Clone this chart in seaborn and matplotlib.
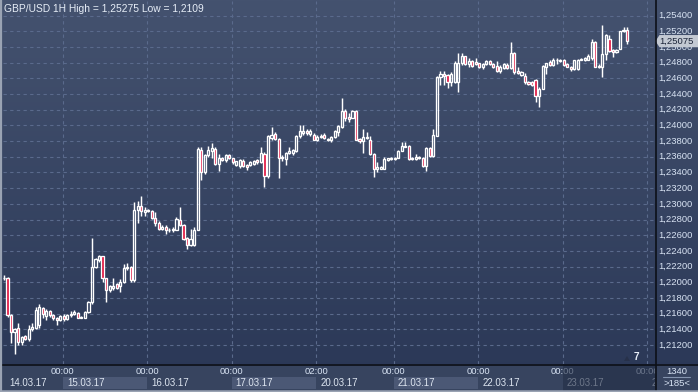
import numpy as np
import matplotlib
matplotlib.use("Agg")
import matplotlib.pyplot as plt
import seaborn as sns
from matplotlib.colors import LinearSegmentedColormap
from matplotlib.patches import Rectangle, Polygon
from matplotlib.lines import Line2D

# ---------------- data (GBP/USD, 1H candles) ----------------
opens = [1.2205, 1.2205, 1.2158, 1.2137, 1.2141, 1.2124, 1.2131, 1.2127, 1.2140, 1.2142,
         1.2146, 1.2167, 1.2157, 1.2163, 1.2158, 1.2154, 1.2152, 1.2157, 1.2153, 1.2158,
         1.2159, 1.2161, 1.2155, 1.2155, 1.2162, 1.2175, 1.2220, 1.2228, 1.2233, 1.2205,
         1.2190, 1.2193, 1.2198, 1.2195, 1.2200, 1.2218, 1.2220, 1.2203, 1.2292, 1.2297,
         1.2290, 1.2292, 1.2291, 1.2282, 1.2276, 1.2268, 1.2271, 1.2266, 1.2267, 1.2267,
         1.2280, 1.2273, 1.2257, 1.2247, 1.2248, 1.2267, 1.2369, 1.2340, 1.2362, 1.2368,
         1.2370, 1.2351, 1.2359, 1.2356, 1.2362, 1.2358, 1.2350, 1.2348, 1.2355, 1.2350,
         1.2350, 1.2351, 1.2356, 1.2353, 1.2364, 1.2335, 1.2384, 1.2389, 1.2383, 1.2360,
         1.2357, 1.2365, 1.2365, 1.2368, 1.2386, 1.2390, 1.2393, 1.2389, 1.2388, 1.2382,
         1.2385, 1.2388, 1.2383, 1.2381, 1.2385, 1.2392, 1.2398, 1.2418, 1.2411, 1.2410,
         1.2419, 1.2383, 1.2380, 1.2385, 1.2382, 1.2364, 1.2345, 1.2345, 1.2345, 1.2356,
         1.2357, 1.2359, 1.2359, 1.2368, 1.2373, 1.2374, 1.2359, 1.2357, 1.2360, 1.2359,
         1.2348, 1.2371, 1.2361, 1.2387, 1.2462, 1.2466, 1.2464, 1.2455, 1.2455, 1.2456,
         1.2479, 1.2488, 1.2478, 1.2482, 1.2481, 1.2479, 1.2475, 1.2478, 1.2482, 1.2478,
         1.2476, 1.2470, 1.2473, 1.2477, 1.2473, 1.2492, 1.2469, 1.2464, 1.2463, 1.2456,
         1.2456, 1.2458, 1.2437, 1.2447, 1.2474, 1.2481, 1.2477, 1.2483, 1.2482, 1.2484,
         1.2478, 1.2475, 1.2472, 1.2472, 1.2484, 1.2483, 1.2484, 1.2486, 1.2507, 1.2476,
         1.2474, 1.2491, 1.2510, 1.2496, 1.2494, 1.2498, 1.2520, 1.2522]
highs = [1.2209, 1.2207, 1.2159, 1.2142, 1.2148, 1.2132, 1.2133, 1.2145, 1.2148, 1.2168,
         1.2172, 1.2168, 1.2166, 1.2165, 1.2159, 1.2156, 1.2158, 1.2159, 1.2159, 1.2163,
         1.2165, 1.2162, 1.2157, 1.2163, 1.2176, 1.2256, 1.2231, 1.2235, 1.2234, 1.2206,
         1.2196, 1.2206, 1.2199, 1.2204, 1.2223, 1.2225, 1.2221, 1.2302, 1.2304, 1.2310,
         1.2296, 1.2293, 1.2292, 1.2290, 1.2278, 1.2273, 1.2273, 1.2269, 1.2270, 1.2283,
         1.2296, 1.2274, 1.2258, 1.2268, 1.2270, 1.2373, 1.2372, 1.2363, 1.2374, 1.2378,
         1.2372, 1.2363, 1.2360, 1.2364, 1.2363, 1.2359, 1.2355, 1.2357, 1.2357, 1.2351,
         1.2354, 1.2356, 1.2357, 1.2373, 1.2366, 1.2388, 1.2398, 1.2392, 1.2384, 1.2362,
         1.2366, 1.2373, 1.2370, 1.2388, 1.2401, 1.2401, 1.2396, 1.2395, 1.2390, 1.2388,
         1.2389, 1.2390, 1.2384, 1.2386, 1.2394, 1.2401, 1.2435, 1.2421, 1.2416, 1.2420,
         1.2420, 1.2384, 1.2396, 1.2392, 1.2386, 1.2365, 1.2353, 1.2348, 1.2360, 1.2359,
         1.2360, 1.2360, 1.2369, 1.2379, 1.2379, 1.2375, 1.2360, 1.2363, 1.2361, 1.2360,
         1.2372, 1.2372, 1.2396, 1.2463, 1.2469, 1.2469, 1.2466, 1.2468, 1.2482, 1.2492,
         1.2493, 1.2489, 1.2486, 1.2483, 1.2486, 1.2480, 1.2479, 1.2483, 1.2484, 1.2479,
         1.2482, 1.2477, 1.2479, 1.2480, 1.2507, 1.2494, 1.2474, 1.2469, 1.2467, 1.2457,
         1.2457, 1.2459, 1.2449, 1.2477, 1.2480, 1.2483, 1.2486, 1.2486, 1.2485, 1.2485,
         1.2479, 1.2476, 1.2484, 1.2485, 1.2486, 1.2487, 1.2491, 1.2510, 1.2508, 1.2478,
         1.2528, 1.2516, 1.2515, 1.2497, 1.2498, 1.2521, 1.2525, 1.2525]
lows = [1.2203, 1.2156, 1.2122, 1.2109, 1.2120, 1.2120, 1.2126, 1.2125, 1.2138, 1.2140,
        1.2141, 1.2155, 1.2152, 1.2156, 1.2152, 1.2146, 1.2150, 1.2150, 1.2152, 1.2156,
        1.2158, 1.2154, 1.2154, 1.2154, 1.2161, 1.2172, 1.2218, 1.2226, 1.2200, 1.2175,
        1.2188, 1.2190, 1.2191, 1.2188, 1.2199, 1.2216, 1.2200, 1.2200, 1.2275, 1.2285,
        1.2284, 1.2289, 1.2281, 1.2272, 1.2266, 1.2266, 1.2262, 1.2264, 1.2264, 1.2266,
        1.2272, 1.2254, 1.2242, 1.2246, 1.2246, 1.2266, 1.2331, 1.2338, 1.2360, 1.2358,
        1.2349, 1.2342, 1.2354, 1.2353, 1.2357, 1.2351, 1.2348, 1.2346, 1.2347, 1.2343,
        1.2348, 1.2350, 1.2351, 1.2352, 1.2322, 1.2333, 1.2382, 1.2381, 1.2333, 1.2355,
        1.2350, 1.2364, 1.2362, 1.2366, 1.2384, 1.2388, 1.2388, 1.2386, 1.2381, 1.2380,
        1.2384, 1.2383, 1.2380, 1.2379, 1.2384, 1.2386, 1.2397, 1.2406, 1.2405, 1.2409,
        1.2381, 1.2378, 1.2365, 1.2383, 1.2362, 1.2334, 1.2341, 1.2344, 1.2344, 1.2355,
        1.2356, 1.2356, 1.2358, 1.2367, 1.2372, 1.2356, 1.2356, 1.2356, 1.2357, 1.2347,
        1.2342, 1.2360, 1.2360, 1.2386, 1.2451, 1.2451, 1.2448, 1.2450, 1.2454, 1.2443,
        1.2477, 1.2477, 1.2475, 1.2475, 1.2477, 1.2473, 1.2472, 1.2477, 1.2477, 1.2473,
        1.2468, 1.2467, 1.2472, 1.2472, 1.2472, 1.2466, 1.2466, 1.2463, 1.2453, 1.2451,
        1.2450, 1.2430, 1.2423, 1.2446, 1.2466, 1.2476, 1.2476, 1.2478, 1.2481, 1.2476,
        1.2474, 1.2470, 1.2471, 1.2471, 1.2483, 1.2482, 1.2483, 1.2483, 1.2474, 1.2473,
        1.2462, 1.2483, 1.2494, 1.2487, 1.2493, 1.2497, 1.2519, 1.2504]
closes = [1.2206, 1.2158, 1.2137, 1.2140, 1.2124, 1.2130, 1.2128, 1.2140, 1.2143, 1.2165,
          1.2168, 1.2160, 1.2163, 1.2158, 1.2154, 1.2152, 1.2157, 1.2153, 1.2158, 1.2160,
          1.2162, 1.2155, 1.2156, 1.2162, 1.2175, 1.2220, 1.2229, 1.2233, 1.2205, 1.2190,
          1.2195, 1.2195, 1.2193, 1.2200, 1.2218, 1.2220, 1.2203, 1.2292, 1.2297, 1.2291,
          1.2292, 1.2291, 1.2282, 1.2276, 1.2268, 1.2271, 1.2266, 1.2267, 1.2268, 1.2281,
          1.2273, 1.2255, 1.2247, 1.2255, 1.2267, 1.2370, 1.2340, 1.2362, 1.2369, 1.2371,
          1.2351, 1.2358, 1.2356, 1.2362, 1.2359, 1.2353, 1.2354, 1.2356, 1.2348, 1.2347,
          1.2353, 1.2354, 1.2353, 1.2365, 1.2336, 1.2386, 1.2388, 1.2383, 1.2359, 1.2358,
          1.2365, 1.2367, 1.2369, 1.2387, 1.2393, 1.2393, 1.2390, 1.2393, 1.2382, 1.2385,
          1.2387, 1.2384, 1.2381, 1.2385, 1.2393, 1.2399, 1.2418, 1.2409, 1.2408, 1.2419,
          1.2382, 1.2380, 1.2385, 1.2384, 1.2364, 1.2345, 1.2347, 1.2347, 1.2357, 1.2358,
          1.2359, 1.2357, 1.2368, 1.2374, 1.2374, 1.2357, 1.2357, 1.2360, 1.2358, 1.2348,
          1.2371, 1.2361, 1.2388, 1.2462, 1.2465, 1.2463, 1.2455, 1.2466, 1.2480, 1.2480,
          1.2488, 1.2478, 1.2482, 1.2476, 1.2478, 1.2474, 1.2478, 1.2482, 1.2478, 1.2474,
          1.2470, 1.2474, 1.2478, 1.2473, 1.2492, 1.2468, 1.2467, 1.2468, 1.2455, 1.2453,
          1.2451, 1.2438, 1.2447, 1.2476, 1.2479, 1.2477, 1.2484, 1.2484, 1.2484, 1.2477,
          1.2475, 1.2472, 1.2483, 1.2484, 1.2485, 1.2486, 1.2489, 1.2507, 1.2475, 1.2475,
          1.2491, 1.2515, 1.2495, 1.2494, 1.2496, 1.2520, 1.2522, 1.2508]

day_ticks = [17, 41, 65, 89, 111, 135, 159, 183]
time_labels = ["00:00", "00:00", "00:00", "02:00", "00:00", "00:00", "00:00", "00:00"]
date_starts = [0.8, 17, 41, 65, 89, 111, 135, 159, 183]
date_labels = ["14.03.17", "15.03.17", "16.03.17", "17.03.17", "20.03.17",
               "21.03.17", "22.03.17", "23.03.17", "24.03.17"]
date_shaded = [False, True, False, True, False, True, False, False, False]
price_ticks = [1.254, 1.252, 1.250, 1.248, 1.246, 1.244, 1.242, 1.240, 1.238, 1.236, 1.234,
               1.232, 1.230, 1.228, 1.226, 1.224, 1.222, 1.220, 1.218, 1.216, 1.214, 1.212]
title = "GBP/USD 1H High = 1,25275 Low = 1,2109"
last_price = 1.25075
footer_top = "1340"
footer_bottom = ">185<"
marker_text = "7"

# ---------------- style ----------------
sns.set_style("dark")
plt.rcParams["font.family"] = ["Liberation Sans", "DejaVu Sans"]

W, H = 698, 392
fig = plt.figure(figsize=(W / 100, H / 100), dpi=100)

TXT = "#d8e3f3"
GRID = "#5a6a8c"
RED = "#e0103c"

# gradient background for whole figure
bg = fig.add_axes([0, 0, 1, 1], zorder=-10)
grad_cmap = LinearSegmentedColormap.from_list("bg", ["#2a3756", "#44526f"])
bg.imshow(np.linspace(0, 1, 256).reshape(-1, 1), cmap=grad_cmap, aspect="auto",
          extent=[0, 1, 0, 1], origin="lower")
bg.set_xlim(0, 1); bg.set_ylim(0, 1); bg.axis("off")

# ---------------- main candle axes ----------------
ax = fig.add_axes([3 / W, 28 / H, 652 / W, 363 / H])
ax.set_facecolor("none")
XMIN, XMAX = -0.28, 184.94
YMIN, YMAX = 1.20957, 1.25587
ax.set_xlim(XMIN, XMAX)
ax.set_ylim(YMIN, YMAX)

o = np.array(opens); h = np.array(highs); l = np.array(lows); c = np.array(closes)
x = np.arange(len(c))
top = np.maximum(o, c)
bot = np.minimum(o, c)
body = np.maximum(top - bot, 0.00006)
bear = c < o
faces = [RED if b else (0, 0, 0, 0) for b in bear]

ax.vlines(x, top, h, color="white", linewidth=1.05, zorder=3)
ax.vlines(x, l, bot, color="white", linewidth=1.05, zorder=3)
ax.bar(x, body, bottom=bot, width=0.6, color=faces, edgecolor="white",
       linewidth=0.95, zorder=4)

ax.set_xticks([t - 0.3 for t in day_ticks])
ax.set_yticks(price_ticks)
ax.grid(True, color=GRID, linestyle=(0, (3, 3)), linewidth=0.8)
ax.tick_params(length=0, labelbottom=False, labelleft=False)
for s in ax.spines.values():
    s.set_visible(False)

# ---------------- right price panel ----------------
axr = fig.add_axes([655 / W, 28 / H, 43 / W, 363 / H])
axr.set_facecolor("none")
axr.set_xlim(0, 43)
axr.set_ylim(YMIN, YMAX)
axr.axis("off")
for p in price_ticks:
    axr.text(3, p, f"{p:.5f}".replace(".", ","), ha="left", va="center",
             color=TXT, fontsize=6.8)
dy = 0.00078
tag = Polygon([(0.5, last_price), (4.5, last_price + dy), (43, last_price + dy),
               (43, last_price - dy), (4.5, last_price - dy)], closed=True,
              facecolor="#c3c9d3", edgecolor="none", zorder=5, clip_on=False)
axr.add_patch(tag)
axr.text(4.2, last_price, f"{last_price:.5f}".replace(".", ","), ha="left", va="center",
         color="#1b2438", fontsize=6.8, zorder=6)

# ---------------- bottom time panel ----------------
axb = fig.add_axes([0, 0, 655 / W, 28 / H])
axb.set_facecolor("#37445f")
xb0 = XMIN - 3 * (XMAX - XMIN) / 652
axb.set_xlim(xb0, XMAX)
axb.set_ylim(0, 28)
for sp in axb.spines.values():
    sp.set_visible(False)
axb.set_xticks([]); axb.set_yticks([])
for i, (st, lab, sh) in enumerate(zip(date_starts, date_labels, date_shaded)):
    if sh:
        nxt = date_starts[i + 1]
        axb.add_patch(Rectangle((st - 0.3, 2.7), nxt - st, 12.6,
                                facecolor="#4b5875", edgecolor="none", zorder=1))
    axb.text(st + 0.85, 8.8, lab, ha="left", va="center", color="#dde5f0",
             fontsize=7.0, clip_on=True, zorder=2)
for t, lab in zip(day_ticks, time_labels):
    axb.text(t - 0.3, 20.3, lab, ha="center", va="center", color=TXT,
             fontsize=6.8, clip_on=True, zorder=2)
axb.add_patch(Rectangle((day_ticks[-2] - 0.3, 1.5), 40, 26.5, facecolor="#222d45",
                        alpha=0.6, edgecolor="none", zorder=3))

# ---------------- bottom-right corner ----------------
axc = fig.add_axes([655 / W, 0, 43 / W, 28 / H])
axc.set_facecolor("#37445f")
axc.set_xlim(0, 43); axc.set_ylim(0, 28)
for sp in axc.spines.values():
    sp.set_visible(False)
axc.set_xticks([]); axc.set_yticks([])
axc.text(21.5, 21.0, footer_top, ha="center", va="center", color=TXT, fontsize=6.8)
axc.plot([8, 35], [15.3, 15.3], color="#8494ae", linewidth=0.8)
axc.text(21.5, 8.6, footer_bottom, ha="center", va="center", color=TXT, fontsize=6.8)

# ---------------- separators, frame, title ----------------
fig.add_artist(Line2D([655.5 / W, 655.5 / W], [0, 1], color="#0c1018", linewidth=1.2))
fig.add_artist(Line2D([0, 1], [1 - 364.5 / H, 1 - 364.5 / H], color="#0c1018", linewidth=1.2))
fig.add_artist(Line2D([0.8 / W, 0.8 / W], [0, 1], color="#9aa3b3", linewidth=1.6))
fig.add_artist(Line2D([0, 1], [1.2 / H, 1.2 / H], color="#9aa3b3", linewidth=1.8))

fig.text(4 / W, 1 - 8.5 / H, title, ha="left", va="center", color="#e6edf7", fontsize=7.4)
fig.text(636 / W, 1 - 357 / H, marker_text, ha="center", va="center", color="#e8eef8",
         fontsize=7.2, fontweight="bold")
fig.add_artist(Polygon([(624 / W, 1 - 361 / H), (630 / W, 1 - 361 / H), (627 / W, 1 - 356 / H)],
                       closed=True, transform=fig.transFigure, facecolor="#27314a",
                       edgecolor="none"))

fig.savefig("out.png", dpi=100)
